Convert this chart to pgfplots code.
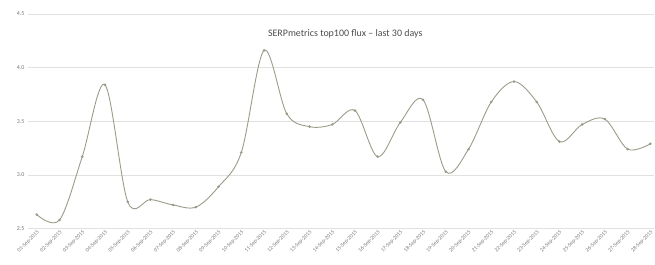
\documentclass[border=0pt]{standalone}
\usepackage{fontspec}
\setmainfont{Carlito}
\usepackage{pgfplots}
\pgfplotsset{compat=1.18}
\definecolor{linec}{RGB}{155,155,138}
\definecolor{gridc}{RGB}{225,225,225}
\definecolor{txtc}{RGB}{120,120,120}
\begin{document}
\begin{tikzpicture}[x=1bp,y=1bp]
\begin{axis}[
  scale only axis,
  width=627bp, height=229bp,
  xmin=-0.39, xmax=27.15,
  ymin=2.5, ymax=4.63,
  ytick={2.5,3,3.5,4,4.5},
  yticklabel style={font=\fontsize{6}{6}\selectfont, text=txtc},
  /pgf/number format/assume math mode=true,
  /pgf/number format/fixed, /pgf/number format/precision=1, /pgf/number format/fixed zerofill,
  xtick={0,...,27},
  xticklabels={01-Sep-2015,02-Sep-2015,03-Sep-2015,04-Sep-2015,05-Sep-2015,06-Sep-2015,07-Sep-2015,08-Sep-2015,09-Sep-2015,10-Sep-2015,11-Sep-2015,12-Sep-2015,13-Sep-2015,14-Sep-2015,15-Sep-2015,16-Sep-2015,17-Sep-2015,18-Sep-2015,19-Sep-2015,20-Sep-2015,21-Sep-2015,22-Sep-2015,23-Sep-2015,24-Sep-2015,25-Sep-2015,26-Sep-2015,27-Sep-2015,28-Sep-2015},
  xticklabel style={font=\fontsize{5.5}{6}\selectfont, text=txtc, rotate=45, anchor=north east, inner sep=1pt},
  ymajorgrids, grid style={gridc, line width=0.5pt},
  axis x line*=bottom, axis y line*=left,
  y axis line style={draw=none},
  x axis line style={gridc},
  major tick length=0pt,
  clip=false,
]
\addplot[linec, line width=0.9pt, smooth, tension=0.55, mark=*, mark size=0.8pt, mark options={fill=linec!80!black, draw=none}] coordinates {
(0,2.63) (1,2.58) (2,3.17) (3,3.84) (4,2.75) (5,2.77) (6,2.72) (7,2.70) (8,2.89) (9,3.21)
(10,4.16) (11,3.57) (12,3.45) (13,3.47) (14,3.60) (15,3.17) (16,3.49) (17,3.70) (18,3.03) (19,3.24)
(20,3.68) (21,3.87) (22,3.68) (23,3.31) (24,3.47) (25,3.52) (26,3.24) (27,3.29)
};
\node[font=\fontsize{10}{11}\selectfont, text=black!70] at (rel axis cs:0.507,0.85) {SERPmetrics top100 flux -- last 30 days};
\path (rel axis cs:0,0) ++(-28bp,-36bp) coordinate (bb);
\end{axis}
\useasboundingbox (current bounding box.north east) rectangle (bb);
\end{tikzpicture}
\end{document}
